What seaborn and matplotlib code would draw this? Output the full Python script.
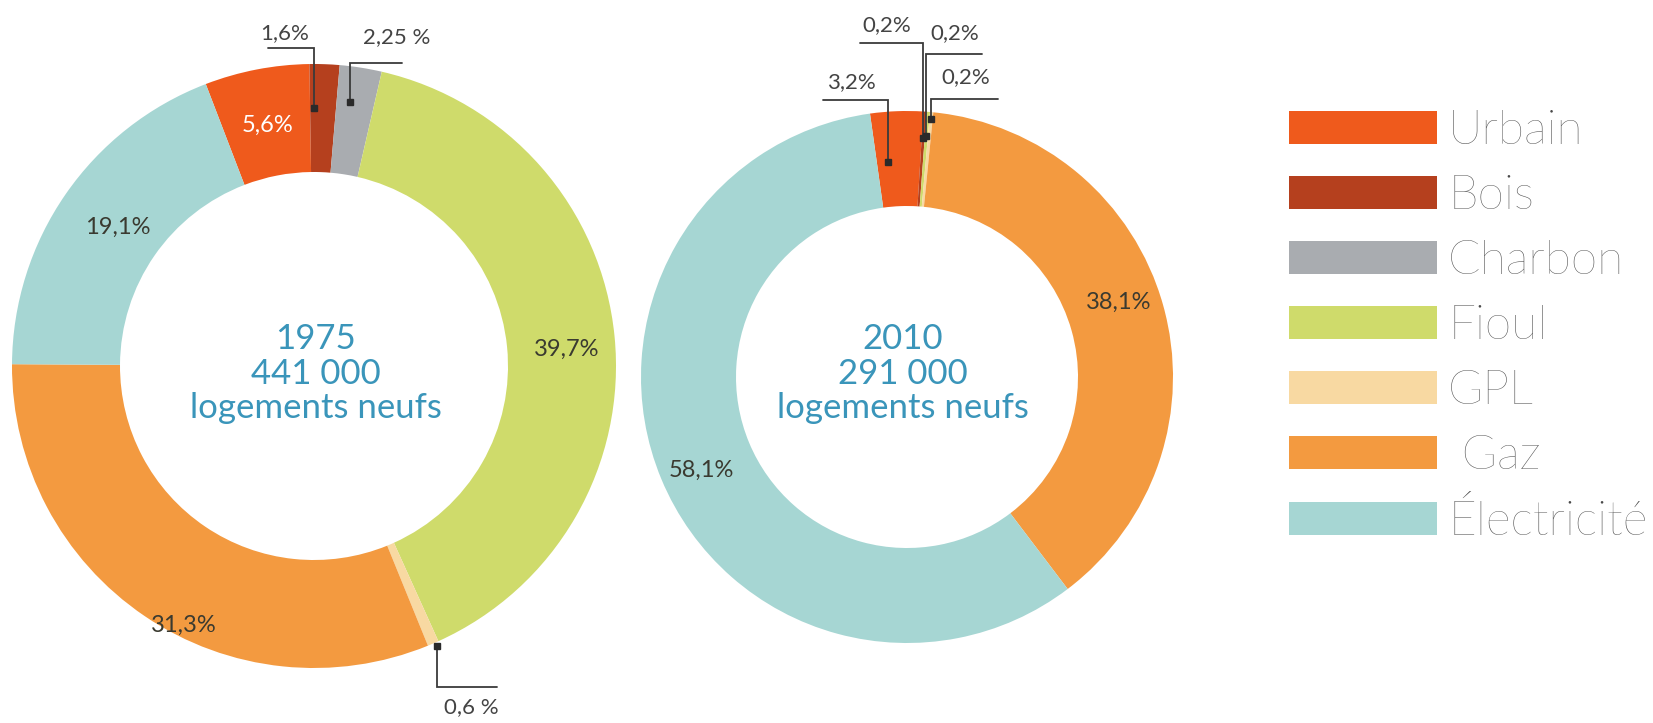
import matplotlib.pyplot as plt
import seaborn as sns
import numpy as np
from matplotlib.patches import Patch

# data (shares in %)
categories = ['Urbain', 'Bois', 'Charbon', 'Fioul', 'GPL', 'Gaz', 'Électricité']
share_1975 = [5.6, 1.6, 2.25, 39.7, 0.6, 31.3, 19.1]
share_2010 = [3.2, 0.2, 0.0, 0.2, 0.2, 38.1, 58.1]
pct_1975 = ['5,6%', '1,6%', '2,25 %', '39,7%', '0,6 %', '31,3%', '19,1%']
pct_2010 = ['3,2%', '0,2%', '', '0,2%', '0,2%', '38,1%', '58,1%']
years = ['1975', '2010']
logements = ['441 000', '291 000']
colors = ['#ef5a1c', '#b5401e', '#a9acb0', '#cfdb6b', '#f8d9a2', '#f39a40', '#a6d6d3']

sns.set_theme(style="white")
plt.rcParams['font.family'] = ['Lato', 'DejaVu Sans']

W, H = 1653, 723
fig = plt.figure(figsize=(W / 100, H / 100), dpi=100)
ax = fig.add_axes([0, 0, 1, 1])


def Y(py):
    # pixel row -> data y (y axis points up)
    return H - py


# layout of the two rings (pixels)
# leaders: slice -> (text x, text y, underline y, underline end x, anchor radius, position in slice)
donuts = [
    dict(values=share_1975, pct=pct_1975, center=(314, 366), radius=302, width=108,
         start=111, text_x=316,
         inside={0: (268, 125, 'white'), 6: (118, 227, '#3a3a30'),
                 3: (567, 349, '#3a3a30'), 5: (184, 625, '#3a3a30')},
         leaders={1: (285, 33, 48, 268, 258, 0.15), 2: (397, 37, 63, 402, 266, 0.35),
                  4: (471, 707, 687, 497, 306, 0.3)}),
    dict(values=share_2010, pct=pct_2010, center=(907, 377), radius=266, width=95,
         start=98, text_x=903,
         inside={5: (1119, 302, '#3a3a30'), 6: (701, 470, '#3a3a30')},
         leaders={0: (851, 82, 100, 823, 216, 0.25), 1: (887, 25, 43, 860, 240, 0.5),
                  3: (955, 33, 54, 982, 242, 0.5), 4: (966, 77, 99, 998, 259, 0.5)}),
]

for i, d in enumerate(donuts):
    cx, cy = d['center'][0], Y(d['center'][1])
    wedges, _ = ax.pie(d['values'], colors=colors, startangle=d['start'],
                       counterclock=False, radius=d['radius'], center=(cx, cy),
                       wedgeprops=dict(width=d['width'], edgecolor='none'))

    # labels inside the ring
    for k, (px, py, col) in d['inside'].items():
        ax.text(px, Y(py), d['pct'][k], ha='center', va='center', fontsize=17,
                color=col, zorder=5)

    # labels with leader lines for thin slices
    for k, (tx, ty, ly, ex, r, f) in d['leaders'].items():
        w = wedges[k]
        ang = np.deg2rad(w.theta2 - f * (w.theta2 - w.theta1))
        axx = cx + r * np.cos(ang)
        axy = cy + r * np.sin(ang)
        ax.plot([axx, axx, ex], [axy, Y(ly), Y(ly)], color='#3a3a3a', lw=1.3,
                zorder=6, solid_joinstyle='miter')
        ax.plot([axx], [axy], marker='s', ms=4, color='#2a2a2a', zorder=7)
        ax.text(tx, Y(ty), d['pct'][k], ha='center', va='center', fontsize=16,
                color='#444444', zorder=6)

    # centre text
    for txt, py in zip([years[i], logements[i], 'logements neufs'], [339, 374, 408]):
        ax.text(d['text_x'], Y(py), txt, ha='center', va='center', fontsize=25,
                color='#3a95ba', zorder=5)

ax.set_xlim(0, W)
ax.set_ylim(0, H)
ax.set_aspect('auto')
ax.axis('off')

handles = [Patch(facecolor=c, edgecolor='none',
                 label=(' ' + n if n == 'Gaz' else n))
           for c, n in zip(colors, categories)]
ax.legend(handles=handles, loc='upper left', bbox_to_anchor=(1289, Y(110)),
          bbox_transform=ax.transData, frameon=False,
          labelcolor='#4a4a4a', handlelength=3.09, handleheight=0.69,
          handletextpad=0.23, labelspacing=0.46, borderpad=0, borderaxespad=0,
          prop={'weight': 'light', 'size': 34.5})

fig.savefig('out.png', dpi=100)
